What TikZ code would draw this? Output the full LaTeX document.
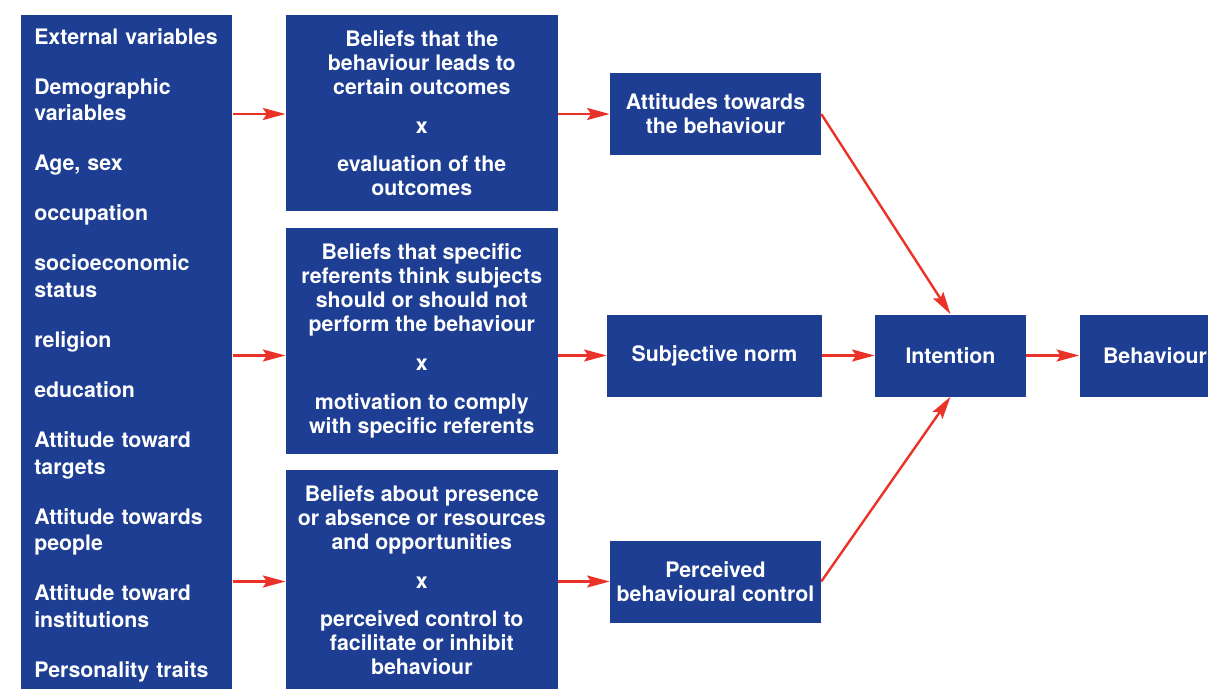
\documentclass[tikz,border=0pt]{standalone}
\usepackage{fontspec}
\setmainfont{TeX Gyre Heros}
\usepackage{tikz}
\usetikzlibrary{positioning,arrows.meta}

\definecolor{boxblue}{RGB}{29,62,146}
\definecolor{arrred}{RGB}{234,50,40}

\begin{document}
\begin{tikzpicture}[x=0.75pt,y=-0.75pt,
  box/.style={fill=boxblue, text=white, inner sep=0pt, align=center,
    font=\bfseries\fontsize{16}{18}\selectfont},
  midbox/.style={box, minimum width=204pt},
  outbox/.style={box, minimum width=158.25pt, minimum height=61.5pt},
  arr/.style={draw=arrred, line width=1.8pt,
    -{Stealth[length=17pt,width=9pt,inset=3pt,fill=arrred]}}]

  \useasboundingbox (0,0) rectangle (1208,689);

  \node (ext) [box, align=left, text width=138.75pt, inner xsep=9.75pt,
    minimum height=510pt, anchor=north west,
    font=\bfseries\fontsize{16}{20}\selectfont] at (21,15)
    {External variables\\[17.5pt]
     Demographic\\variables\\[17.5pt]
     Age, sex\\[17.5pt]
     occupation\\[17.5pt]
     socioeconomic\\status\\[17.5pt]
     religion\\[17.5pt]
     education\\[17.5pt]
     Attitude toward\\targets\\[17.5pt]
     Attitude towards\\people\\[17.5pt]
     Attitude toward\\institutions\\[17.5pt]
     Personality traits};

  \node (b1) [midbox, minimum height=147pt, right=39.75pt of ext.north east, anchor=north west]
    {Beliefs that the\\behaviour leads to\\certain outcomes\\[11pt]
     x\\[11pt]evaluation of the\\outcomes};
  \node (b2) [midbox, minimum height=169.5pt, below=12pt of b1]
    {Beliefs that specific\\referents think subjects\\should or should not\\perform the behaviour\\[11pt]
     x\\[11pt]motivation to comply\\with specific referents};
  \node (b3) [midbox, minimum height=165pt, below=12pt of b2]
    {Beliefs about presence\\or absence or resources\\and opportunities\\[11pt]
     x\\[11pt]perceived control to\\facilitate or inhibit\\behaviour};

  \node (att) [outbox] at (715.5,114) {Attitudes towards\\the behaviour};
  \node (sub) [outbox, minimum width=161.25pt] at (714.5,355.5) {Subjective norm};
  \node (per) [outbox] at (715.5,581.5) {Perceived\\behavioural control};
  \node (int) [outbox, minimum width=113.25pt] at (950.5,355.5) {Intention};
  \node (beh) [outbox, minimum width=113.25pt, right=39.75pt of int] {Behaviour};

  \draw[arr] (ext.east |- att) -- (b1.west |- att);
  \draw[arr] (ext.east |- sub) -- (b2.west |- sub);
  \draw[arr] (ext.east |- per) -- (b3.west |- per);
  \draw[arr] (b1.east |- att) -- (att.west);
  \draw[arr] (b2.east |- sub) -- (sub.west);
  \draw[arr] (b3.east |- per) -- (per.west);
  \draw[arr] (att.east) -- (int.north);
  \draw[arr] (per.east) -- (int.south);
  \draw[arr] (sub) -- (int);
  \draw[arr] (int) -- (beh);

\end{tikzpicture}
\end{document}
